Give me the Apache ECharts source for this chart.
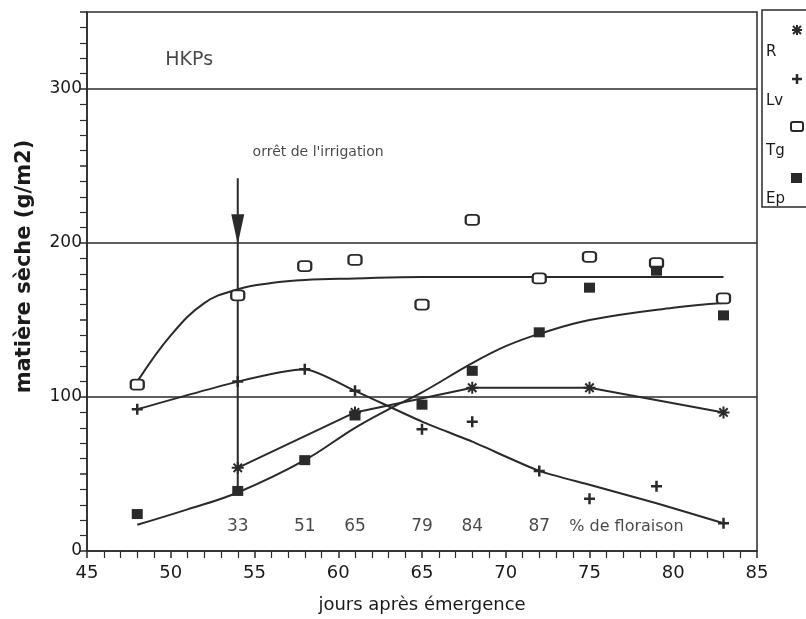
<!DOCTYPE html>
<html><head><meta charset="utf-8">
<script src="https://cdn.jsdelivr.net/npm/echarts@6/dist/echarts.min.js"></script>
<style>html,body{margin:0;padding:0;background:#fff}#c{width:806px;height:619px}</style>
</head><body><div id="c"></div>
<script>
// ---- data ----
const days = [48, 54, 58, 61, 65, 68, 72, 75, 79, 83];
const tgValues = [108, 166, 185, 189, 160, 215, 177, 191, 187, 164];
const epValues = [24, 39, 59, 88, 95, 117, 142, 171, 182, 153];
const lvValues = [92, 110, 118, 104, 79, 84, 52, 34, 42, 18];
const rDays = [54, 61, 68, 75, 83];
const rValues = [54, 90, 106, 106, 90];
// fitted curves
const tgCurveX = [48, 50, 52, 54, 56, 58, 61, 65, 70, 75, 80, 83];
const tgCurveY = [110, 140, 161, 170, 174, 176, 177, 178, 178, 178, 178, 178];
const epCurveX = [48, 51, 54, 58, 61, 63, 65, 68, 70, 72, 75, 80, 83];
const epCurveY = [17, 27, 38, 59, 80, 92, 103, 122, 133, 141, 150, 158, 161];
const lvCurveX = [48, 54, 58, 61, 65, 68, 72, 75, 79, 83];
const lvCurveY = [92, 110, 118, 104, 84, 71, 52, 43, 31, 18];
// flowering percentages
const floweringDays = [54, 58, 61, 65, 68, 72];
const floweringPct = ['33', '51', '65', '79', '84', '87'];
const gridLines = [100, 200, 300];
const xTicks = [45, 50, 55, 60, 65, 70, 75, 80, 85];
const yTicks = [0, 100, 200, 300];

const INK = '#2a2a2a';
const TXT = '#1a1a1a';
const FONT = 'DejaVu Sans';
const zip = (xs, ys) => xs.map((x, i) => [x, ys[i]]);
const ASTER = 'path://M5,0L5,10M0,5L10,5M1.5,1.5L8.5,8.5M8.5,1.5L1.5,8.5';
const PLUS = 'path://M5,0L5,10M0,5L10,5';

const chart = echarts.init(document.getElementById('c'), null, {renderer: 'canvas'});
const option = {
  animation: false,
  backgroundColor: '#fff',
  grid: {left: 87, right: 49, top: 12, bottom: 64, show: true, borderColor: INK, borderWidth: 1.5},
  xAxis: {
    type: 'value', min: 45, max: 85, interval: 5,
    name: 'jours après émergence', nameLocation: 'middle', nameGap: 45,
    nameTextStyle: {fontFamily: FONT, fontSize: 18, color: TXT},
    axisLine: {lineStyle: {color: INK, width: 1.5}},
    axisTick: {show: true, length: 7, lineStyle: {color: INK, width: 1.5}},
    minorTick: {show: true, splitNumber: 5, length: 7, lineStyle: {color: INK, width: 1.2}},
    axisLabel: {fontFamily: FONT, fontSize: 18, color: TXT, margin: 13,
      formatter: v => xTicks.includes(v) ? String(v) : ''},
    splitLine: {show: false}
  },
  yAxis: {
    type: 'value', min: 0, max: 350, interval: 50,
    name: 'matière sèche (g/m2)', nameLocation: 'middle', nameGap: 52,
    nameTextStyle: {fontFamily: FONT, fontSize: 21, fontWeight: 'bold', color: TXT, padding: [0, 0, 0, 30]},
    axisLine: {show: true, lineStyle: {color: INK, width: 1.5}},
    axisTick: {show: true, length: 7, lineStyle: {color: INK, width: 1.5}},
    minorTick: {show: true, splitNumber: 5, length: 7, lineStyle: {color: INK, width: 1.2}},
    axisLabel: {fontFamily: FONT, fontSize: 17, color: TXT, margin: 5,
      formatter: v => yTicks.includes(v) ? String(v) : ''},
    splitLine: {show: false}
  },
  series: [
    {
      type: 'line', name: 'Tg curve', data: zip(tgCurveX, tgCurveY), smooth: 0.4,
      showSymbol: false, lineStyle: {color: INK, width: 2}, silent: true, z: 2,
      markLine: {silent: true, symbol: 'none', label: {show: false},
        lineStyle: {color: INK, type: 'solid', width: 1.6},
        data: gridLines.map(v => ({yAxis: v}))}
    },
    {
      type: 'line', name: 'Ep curve', data: zip(epCurveX, epCurveY), smooth: 0.4,
      showSymbol: false, lineStyle: {color: INK, width: 2}, silent: true, z: 2
    },
    {
      type: 'line', name: 'Lv curve', data: zip(lvCurveX, lvCurveY), smooth: 0.2,
      showSymbol: false, lineStyle: {color: INK, width: 2}, silent: true, z: 2
    },
    {
      type: 'line', name: 'R', data: zip(rDays, rValues), smooth: false,
      symbol: ASTER, symbolSize: 12, showAllSymbol: true,
      itemStyle: {color: INK, borderColor: INK, borderWidth: 2},
      lineStyle: {color: INK, width: 2}, silent: true, z: 3
    },
    {
      type: 'scatter', name: 'Lv', data: zip(days, lvValues),
      symbol: PLUS, symbolSize: 11,
      itemStyle: {color: INK, borderColor: INK, borderWidth: 2.5, opacity: 1}, silent: true, z: 4
    },
    {
      type: 'scatter', name: 'Tg', data: zip(days, tgValues),
      symbol: 'roundRect', symbolSize: [13, 10],
      itemStyle: {color: '#fff', borderColor: INK, borderWidth: 2, opacity: 1}, silent: true, z: 5
    },
    {
      type: 'scatter', name: 'Ep', data: zip(days, epValues),
      symbol: 'rect', symbolSize: [11, 10],
      itemStyle: {color: INK, opacity: 1}, silent: true, z: 5
    },
    {
      // irrigation stop arrow shaft
      type: 'line', name: 'arrow', data: [[54, 242], [54, 39]], showSymbol: false,
      lineStyle: {color: INK, width: 2}, silent: true, z: 3
    },
    {
      type: 'scatter', name: 'arrowhead', data: [[54, 209]],
      symbol: 'path://M0,0L10,0L5,25Z', symbolSize: [13, 30], symbolKeepAspect: false,
      itemStyle: {color: INK, opacity: 1}, silent: true, z: 4
    },
    {
      type: 'scatter', name: 'labels', silent: true, z: 6,
      symbol: 'circle', symbolSize: 1, itemStyle: {color: 'rgba(0,0,0,0)'},
      label: {show: true, position: 'inside', color: TXT, fontFamily: FONT, fontSize: 17,
        formatter: p => p.value[2]},
      data: floweringDays.map((d, i) => [d, 16, floweringPct[i]]).concat([
        {value: [77.2, 16, '% de floraison'], label: {fontSize: 16}},
        {value: [51.1, 319, 'HKPs'], label: {fontSize: 19}},
        {value: [58.8, 259, "orrêt de l'irrigation"], label: {fontSize: 14}}
      ])
    }
  ],
  graphic: [
    {type: 'rect', shape: {x: 762, y: 10, width: 60, height: 197}, style: {fill: 'none', stroke: INK, lineWidth: 1.5}},
    // R asterisk
    {type: 'group', x: 797, y: 30, children: [
      {type: 'line', shape: {x1: -5, y1: 0, x2: 5, y2: 0}, style: {stroke: INK, lineWidth: 2}},
      {type: 'line', shape: {x1: 0, y1: -5, x2: 0, y2: 5}, style: {stroke: INK, lineWidth: 2}},
      {type: 'line', shape: {x1: -4, y1: -4, x2: 4, y2: 4}, style: {stroke: INK, lineWidth: 2}},
      {type: 'line', shape: {x1: 4, y1: -4, x2: -4, y2: 4}, style: {stroke: INK, lineWidth: 2}}
    ]},
    {type: 'text', x: 766, y: 52, style: {text: 'R', fill: TXT, font: '15px "DejaVu Sans"', textVerticalAlign: 'middle'}},
    // Lv plus
    {type: 'group', x: 797, y: 79, children: [
      {type: 'line', shape: {x1: -5, y1: 0, x2: 5, y2: 0}, style: {stroke: INK, lineWidth: 2.5}},
      {type: 'line', shape: {x1: 0, y1: -5, x2: 0, y2: 5}, style: {stroke: INK, lineWidth: 2.5}}
    ]},
    {type: 'text', x: 766, y: 101, style: {text: 'Lv', fill: TXT, font: '15px "DejaVu Sans"', textVerticalAlign: 'middle'}},
    // Tg open square
    {type: 'rect', shape: {x: 791, y: 122, width: 12, height: 9, r: 2}, style: {fill: '#fff', stroke: INK, lineWidth: 2}},
    {type: 'text', x: 766, y: 151, style: {text: 'Tg', fill: TXT, font: '15px "DejaVu Sans"', textVerticalAlign: 'middle'}},
    // Ep filled square
    {type: 'rect', shape: {x: 791, y: 173, width: 11, height: 10}, style: {fill: INK}},
    {type: 'text', x: 766, y: 199, style: {text: 'Ep', fill: TXT, font: '15px "DejaVu Sans"', textVerticalAlign: 'middle'}}
  ]
};
chart.setOption(option);
</script>
</body></html>
